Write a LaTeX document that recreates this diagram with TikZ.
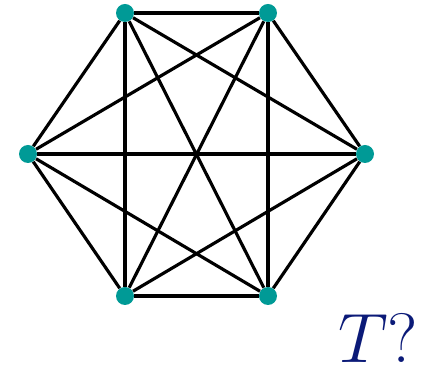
\documentclass[tikz,border=0pt]{standalone}
\usepackage{graphicx}
\usepackage{tikz}
\usetikzlibrary{positioning,calc}
\definecolor{dotteal}{HTML}{009A96}
\definecolor{labelnavy}{HTML}{0B1A78}

\begin{document}
\begin{tikzpicture}[x=0.02cm,y=-0.02cm,
    vtx/.style={circle,fill=dotteal,inner sep=0pt,minimum size=0.36cm},
    edge/.style={line width=1.8pt,black}]
  \useasboundingbox (0,0) rectangle (433,367);
  % hexagon corners
  \foreach \n/\x/\y in {1/125/13,2/268/13,3/365/154,4/268/296,5/125/296,6/28/154}
    \node[vtx] (v\n) at (\x,\y) {};
  \foreach \a in {1,...,6}{\foreach \b in {\a,...,6}{
    \ifnum\a<\b \draw[edge] (v\a) -- (v\b); \fi}}
  \node[text=labelnavy,font=\Huge,inner sep=0pt] (q) at (378,338) {\scalebox{1.6}{$T?$}};
\end{tikzpicture}
\end{document}
